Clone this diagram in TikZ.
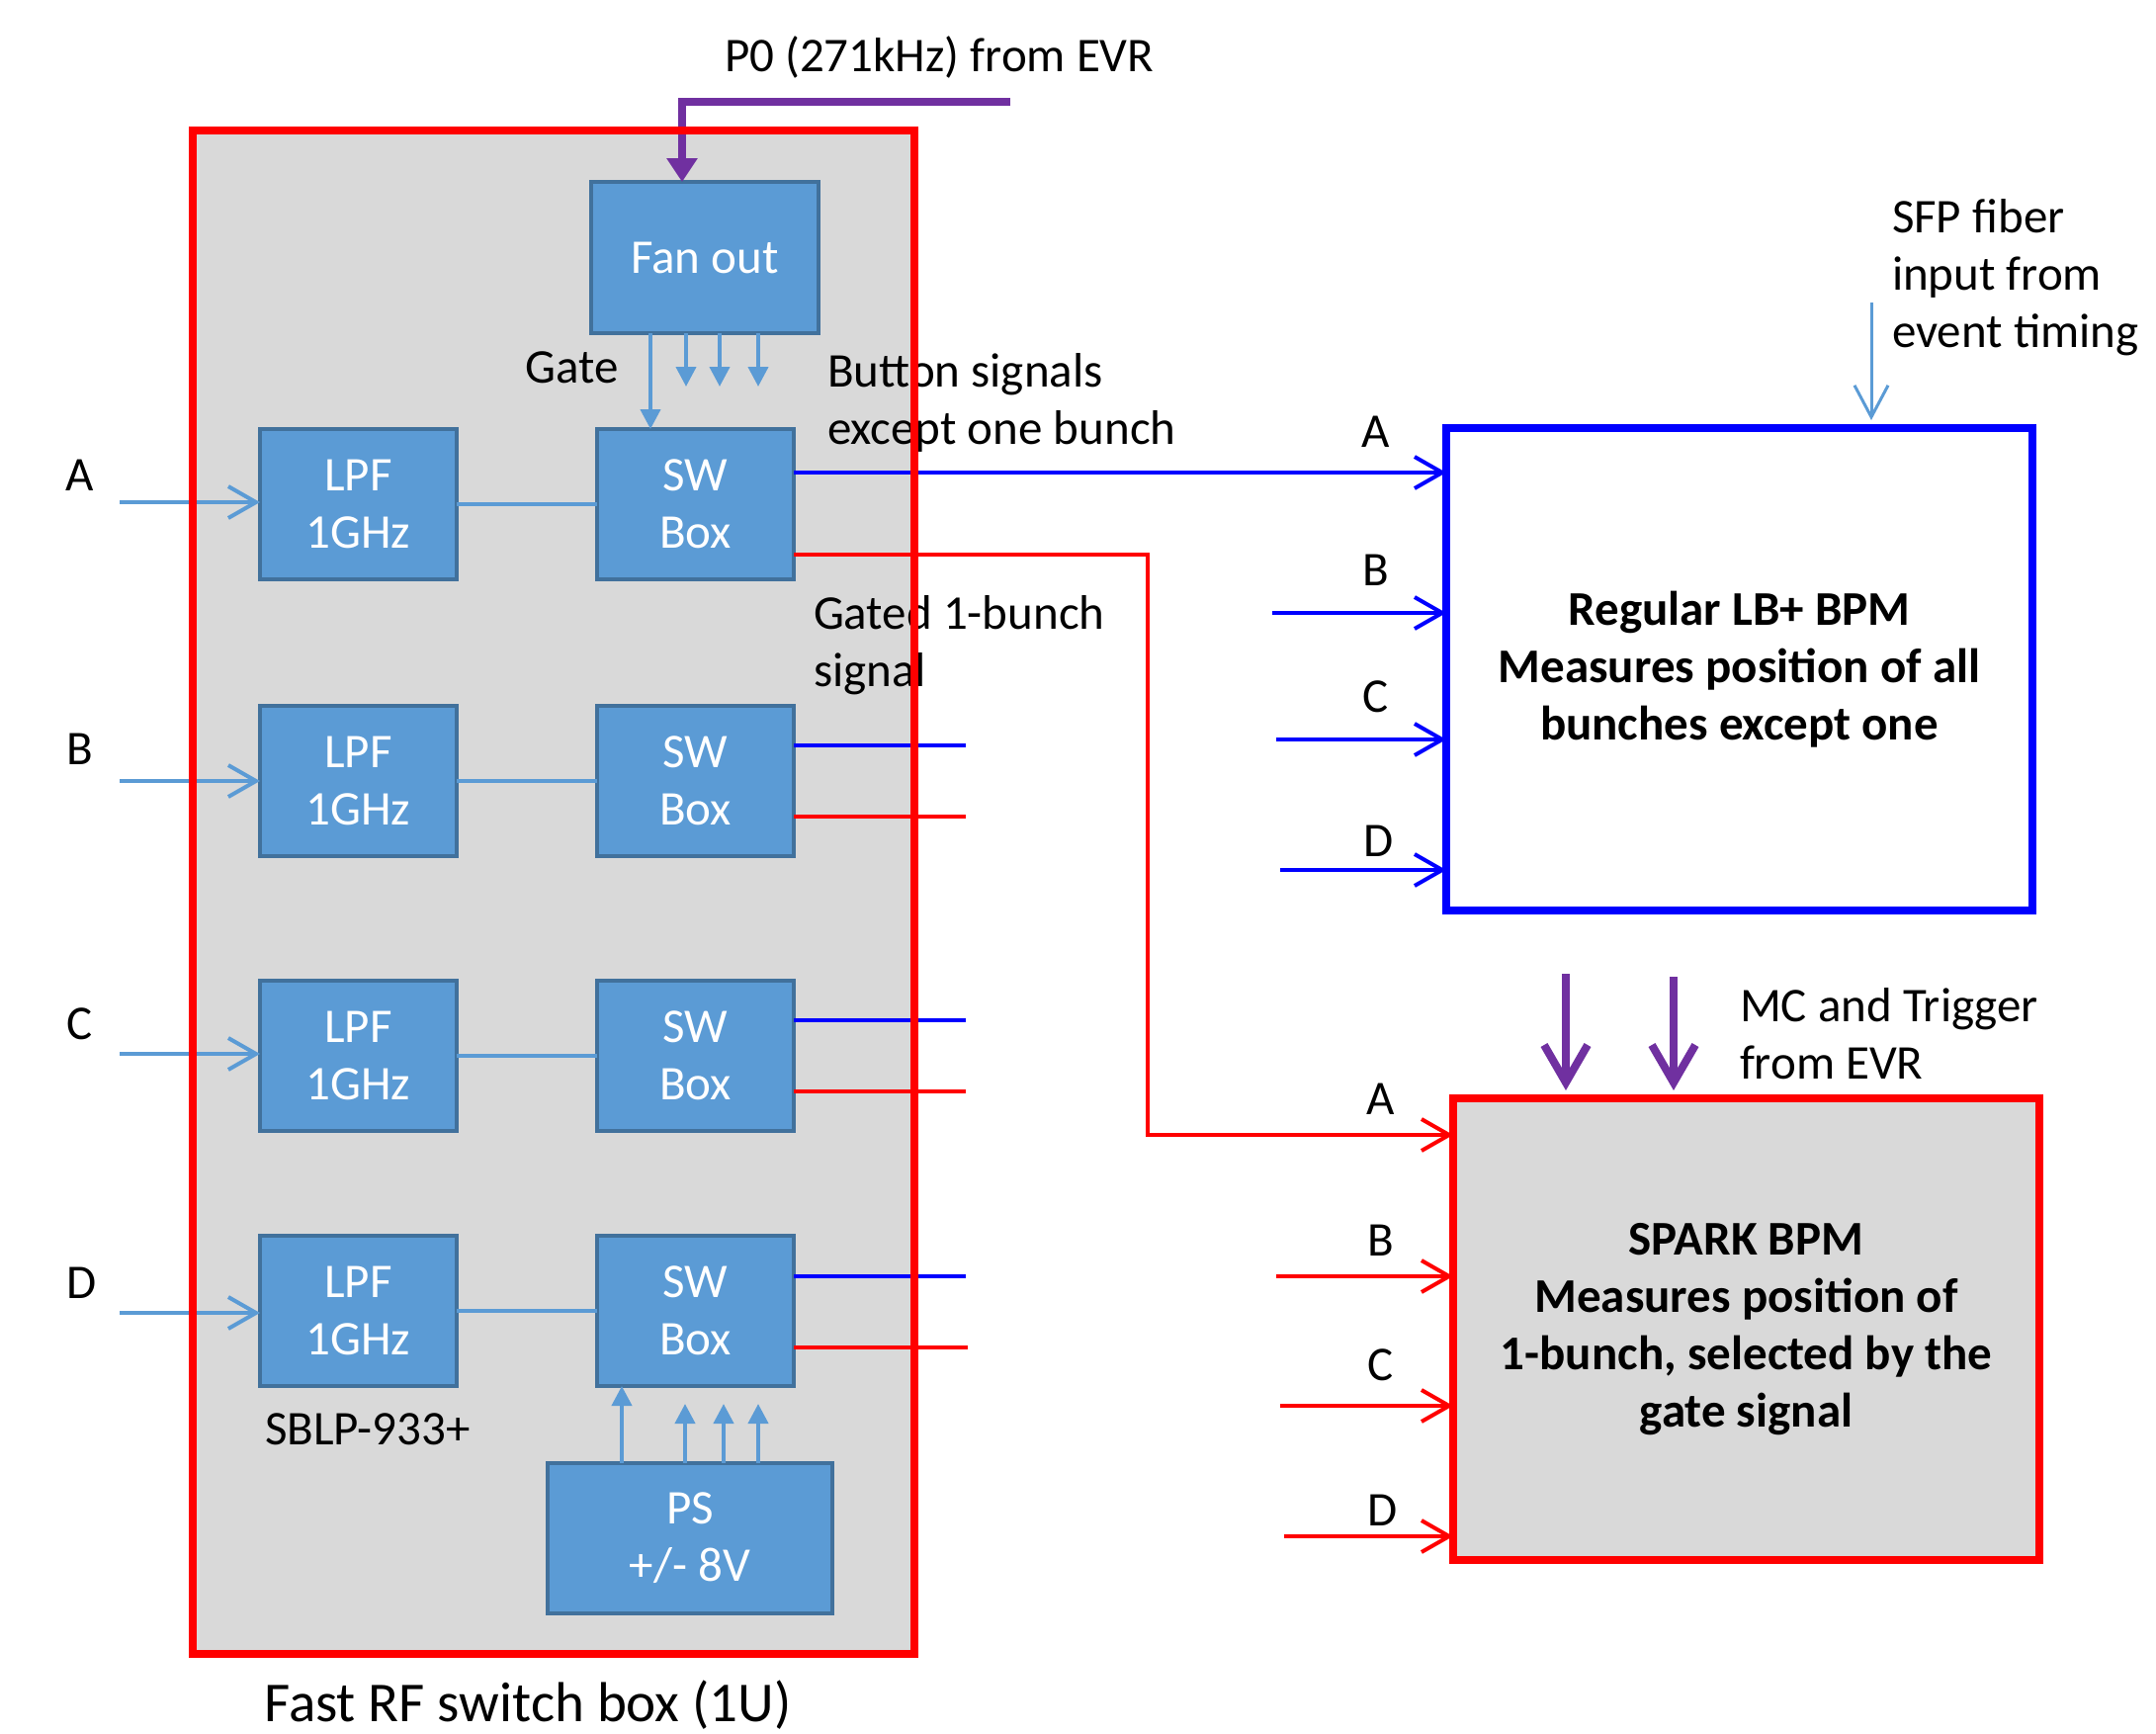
\documentclass[tikz,border=0pt]{standalone}
\usepackage{fontspec}
\setmainfont{Carlito}
\usetikzlibrary{arrows.meta,calc}
\definecolor{boxblue}{HTML}{5B9BD5}
\definecolor{boxedge}{HTML}{41719C}
\definecolor{panelgray}{HTML}{D9D9D9}
\definecolor{evrpurple}{HTML}{7030A0}
\definecolor{pureblue}{HTML}{0000FF}
\definecolor{purered}{HTML}{FF0000}
\begin{document}
\begin{tikzpicture}[x=0.5pt,y=-0.5pt,
  every node/.style={inner sep=0pt, outer sep=0pt},
  txt/.style={font=\fontsize{24.5}{29}\selectfont, text=black, align=left},
  blk/.style={draw=boxedge, fill=boxblue, line width=2pt, text=white, align=center,
    font=\fontsize{24.5}{29}\selectfont, minimum width=99.5pt, minimum height=76pt},
  bpmbox/.style={line width=4pt, align=center, font=\fontsize{24.5}{29}\selectfont\bfseries,
    minimum width=296.5pt},
  ltblue/.style={draw=boxblue, line width=2pt},
  blueline/.style={draw=pureblue, line width=2pt},
  redline/.style={draw=purered, line width=2pt},
  evrline/.style={draw=evrpurple, line width=4pt},
  barb/.style={-{Straight Barb[length=14pt,width=16pt]}},
  tri/.style={-{Triangle[length=10pt,width=10pt]}},
  bigtri/.style={-{Triangle[length=12pt,width=15pt]}},
  bigbarb/.style={-{Straight Barb[length=19pt,width=22pt]}}
]
\useasboundingbox (0,0) rectangle (2181,1753);

% switch box panel
\node[fill=panelgray, minimum width=365pt, minimum height=770.5pt] (panel) at (560,902.5) {};

% blocks
\node[blk, minimum width=115pt, minimum height=76.5pt] (fan) at (713,260.5) {Fan out};
\node[blk] (lpfA) at (362.5,510) {LPF\\1GHz};
\node[blk] (lpfB) at (362.5,790) {LPF\\1GHz};
\node[blk] (lpfC) at (362.5,1067.5) {LPF\\1GHz};
\node[blk] (lpfD) at (362.5,1326) {LPF\\1GHz};
\node[blk] (swA) at (703.5,510) {SW\\Box};
\node[blk] (swB) at (703.5,790) {SW\\Box};
\node[blk] (swC) at (703.5,1067.5) {SW\\Box};
\node[blk] (swD) at (703.5,1326) {SW\\Box};
\node[blk, minimum width=144pt] (ps) at (698,1556) {PS\\+/- 8V};

% BPM boxes
\node[bpmbox, draw=pureblue, minimum height=244pt] (lb) at (1759.5,677)
  {Regular LB+ BPM\\Measures position of all\\bunches except one};
\node[bpmbox, draw=purered, fill=panelgray, minimum height=233.5pt] (spark) at (1766.5,1344.5)
  {SPARK BPM\\Measures position of\\1-bunch, selected by the\\gate signal};

% inputs A-D
\coordinate (inA) at (121,508);
\coordinate (inB) at (121,790);
\coordinate (inC) at (121,1066);
\coordinate (inD) at (121,1328);
\foreach \r in {A,B,C,D}{
  \draw[ltblue, barb] (in\r) -- (lpf\r.west |- in\r);
  \draw[ltblue] (lpf\r.east) -- (sw\r.west);
}
\node[txt] (labA) at (81,481) {A};
\node[txt] (labB) at (81,758) {B};
\node[txt] (labC) at (81,1036) {C};
\node[txt] (labD) at (83,1298) {D};

% P0 from EVR
\coordinate (p0) at (1022,103);
\coordinate (p0x) at (690,0);
\draw[evrline, bigtri] (p0) -| (p0x |- fan.north);

% gate and fan-out arrows
\coordinate (gx) at (658,0);
\draw[ltblue, tri] (gx |- fan.south) -- (gx |- swA.north);
\foreach \x in {694,728,767}{
  \coordinate (fo\x) at (\x,391);
  \draw[ltblue, tri] (fo\x |- fan.south) -- (fo\x);
}

% power supply arrows
\coordinate (px) at (629,0);
\draw[ltblue, tri] (px |- ps.north) -- (px |- swD.south);
\foreach \x in {693,732,767}{
  \coordinate (pu\x) at (\x,1420);
  \draw[ltblue, tri] (pu\x |- ps.north) -- (pu\x);
}

% SW A outputs
\coordinate (bA) at ([yshift=16pt]swA.east);
\coordinate (rA) at ([yshift=-25.5pt]swA.east);
\coordinate (spA) at ([yshift=98.25pt]spark.west);
\coordinate (rbend) at (1161,0);
\draw[blueline, barb] (bA) -- (bA -| lb.west);
\draw[redline, barb] (rA) -| (rbend |- spA) -- (spA);

% SW B-D stubs
\draw[blueline] ([yshift=18pt]swB.east) -- ++(174,0);
\draw[redline] ([yshift=-18pt]swB.east) -- ++(174,0);
\draw[blueline] ([yshift=18pt]swC.east) -- ++(174,0);
\draw[redline] ([yshift=-18pt]swC.east) -- ++(174,0);
\draw[blueline] ([yshift=17.5pt]swD.east) -- ++(174,0);
\draw[redline] ([yshift=-18.5pt]swD.east) -- ++(176,0);

% LB+ inputs
\coordinate (lbB) at (1287,620);
\coordinate (lbC) at (1291,748);
\coordinate (lbD) at (1295,880);
\draw[blueline, barb] (lbB) -- (lbB -| lb.west);
\draw[blueline, barb] (lbC) -- (lbC -| lb.west);
\draw[blueline, barb] (lbD) -- (lbD -| lb.west);
\node[txt] (lbla) at (1392,437) {A};
\node[txt] (lblb) at (1392,577) {B};
\node[txt] (lblc) at (1392,705) {C};
\node[txt] (lbld) at (1395,851) {D};

% SPARK inputs
\coordinate (skB) at (1291,1291);
\coordinate (skC) at (1295,1422);
\coordinate (skD) at (1299,1554);
\draw[redline, barb] (skB) -- (skB -| spark.west);
\draw[redline, barb] (skC) -- (skC -| spark.west);
\draw[redline, barb] (skD) -- (skD -| spark.west);
\node[txt] (spla) at (1397,1112) {A};
\node[txt] (splb) at (1397,1255) {B};
\node[txt] (splc) at (1397,1381) {C};
\node[txt] (spld) at (1399,1528) {D};

% MC and trigger
\coordinate (mc1) at (1584,985);
\coordinate (mc2) at (1693,988);
\draw[evrline, bigbarb, shorten >=4pt] (mc1) -- (mc1 |- spark.north);
\draw[evrline, bigbarb, shorten >=4pt] (mc2) -- (mc2 |- spark.north);

% SFP fiber
\coordinate (sfp) at (1893,306);
\draw[draw=boxblue, line width=1.5pt, -{Straight Barb[length=16pt,width=17pt]}, shorten >=4pt] (sfp) -- (sfp |- lb.north);

% texts (base = baseline of last line)
\node[txt, anchor=base west] (tp0) at (733,72) {P0 (271kHz) from EVR};
\node[txt, anchor=base] (tgate) at (579,387) {Gate};
\node[txt, anchor=base west] (tbtn) at (837,449) {Button signals\\except one bunch};
\node[txt, anchor=base west] (tgated) at (823,694) {Gated 1-bunch\\signal};
\node[txt, anchor=base west] (tsfp) at (1914,351) {SFP fiber\\input from\\event timing};
\node[txt, anchor=base west] (tmc) at (1760,1091) {MC and Trigger\\from EVR};
\node[txt, anchor=base west] (tsblp) at (268,1461) {SBLP-933+};
\node[font=\fontsize{28.5}{34}\selectfont, anchor=base] (tfast) at (534,1741) {Fast RF switch box (1U)};

% switch box border on top
\draw[purered, line width=4pt] (panel.north west) rectangle (panel.south east);
\end{tikzpicture}
\end{document}
